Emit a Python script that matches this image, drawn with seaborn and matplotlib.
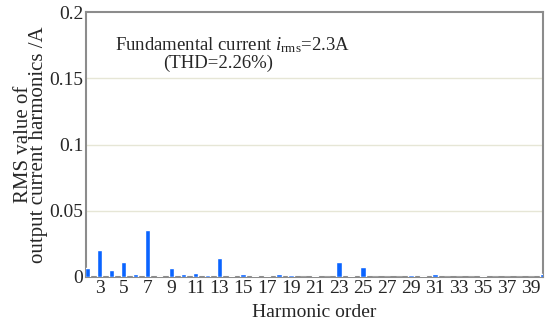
import matplotlib
matplotlib.use("Agg")
import matplotlib.pyplot as plt
import seaborn as sns
import pandas as pd

harmonics = list(range(2, 41))
rms_values = [0.007, 0.020, 0.005, 0.011, 0.0023, 0.0356, 0.0005, 0.007, 0.002, 0.003,
              0.0015, 0.0144, 0.0005, 0.002, 0.0005, 0.0005, 0.002, 0.0015, 0.0003, 0.001,
              0.0003, 0.011, 0.001, 0.0076, 0.0003, 0.0003, 0.0003, 0.0018, 0.001, 0.0023,
              0.0003, 0.0003, 0.0003, 0.0005, 0.0003, 0.0003, 0.0003, 0.0003, 0.0023]
xtick_labels = [str(h) for h in range(3, 40, 2)]
ytick_values = [0, 0.05, 0.1, 0.15, 0.2]
ytick_labels = ["0", "0.05", "0.1", "0.15", "0.2"]

df = pd.DataFrame({"order": harmonics, "rms": rms_values})

sns.set_style("white")
plt.rcParams['font.family'] = ['Liberation Serif', 'DejaVu Serif']
plt.rcParams['mathtext.fontset'] = 'custom'
plt.rcParams['mathtext.it'] = 'Liberation Serif:italic'
plt.rcParams['mathtext.rm'] = 'Liberation Serif'

fig = plt.figure(figsize=(5.45, 3.27), dpi=100)
ax = fig.add_axes([0.158, 0.153, 0.838, 0.810])

sns.barplot(data=df, x="order", y="rms", color="#0a64ff", saturation=1,
            width=0.47, ax=ax, zorder=3)

ax.set_xlim(-0.12, 38.0)
ax.set_ylim(0, 0.2)
ax.set_yticks(ytick_values)
ax.set_yticklabels(ytick_labels, fontsize=14)
ax.set_xticks([h - 2 for h in range(3, 40, 2)])
ax.set_xticklabels(xtick_labels, fontsize=14)
ax.tick_params(axis='both', length=0, pad=2)

for y in ytick_values[1:-1]:
    ax.axhline(y, color="#e6e6d6", linewidth=1.0, zorder=1)

for s in ax.spines.values():
    s.set_color("#8c8c8c")
    s.set_linewidth(1.5)

ax.set_xlabel("Harmonic order", fontsize=14, labelpad=5)
ax.set_ylabel("RMS value of\noutput current harmonics /A", fontsize=15,
              labelpad=1, linespacing=0.68)

ax.text(0.063, 0.875, r"Fundamental current $i_{\mathrm{rms}}$=2.3A", transform=ax.transAxes,
        fontsize=13.5, ha="left", va="center")
ax.text(0.168, 0.805, "(THD=2.26%)", transform=ax.transAxes,
        fontsize=13.5, ha="left", va="center")

fig.savefig("out.png", dpi=100)
